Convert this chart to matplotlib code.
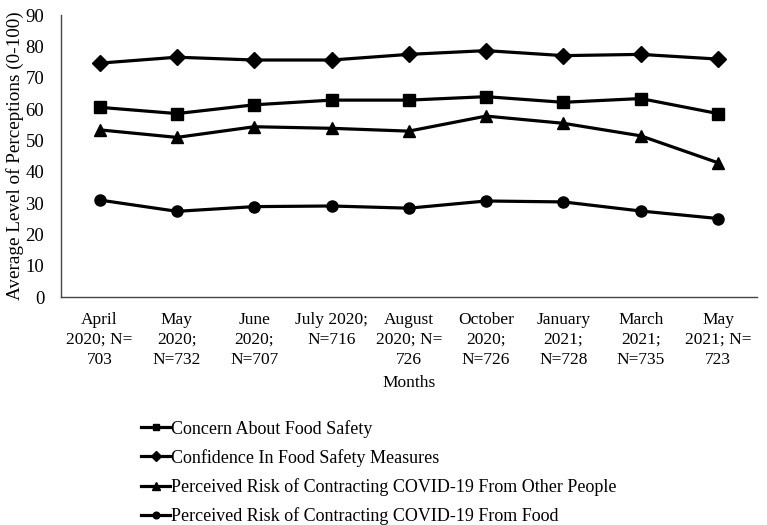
import matplotlib
matplotlib.use("Agg")
from matplotlib import pyplot as plt

plt.rcParams['font.family'] = ['Liberation Serif', 'DejaVu Serif']

# x categories (survey waves)
months = ["April\n2020; N=\n703", "May\n2020;\nN=732", "June\n2020;\nN=707",
          "July 2020;\nN=716", "August\n2020; N=\n726", "October\n2020;\nN=726",
          "January\n2021;\nN=728", "March\n2021;\nN=735", "May\n2021; N=\n723"]

concern = [60.6, 58.6, 61.4, 62.9, 62.9, 64.0, 62.2, 63.4, 58.6]
confidence = [74.7, 76.6, 75.7, 75.7, 77.5, 78.7, 77.1, 77.5, 76.0]
risk_people = [53.4, 51.0, 54.4, 53.9, 53.0, 57.8, 55.5, 51.5, 42.9]
risk_food = [31.0, 27.4, 28.9, 29.1, 28.4, 30.7, 30.4, 27.5, 25.1]

series = [
    ("Concern About Food Safety", concern, "s", 8),
    ("Confidence In Food Safety Measures", confidence, "D", 8),
    ("Perceived Risk of Contracting COVID-19 From Other People", risk_people, "^", 9),
    ("Perceived Risk of Contracting COVID-19 From Food", risk_food, "o", 8),
]

fig = plt.figure(figsize=(7.67, 5.25), dpi=100)
ax = fig.add_axes([0.0795, 0.434, 0.907, 0.537])

x = list(range(len(months)))
for label, vals, mk, ms in series:
    ax.plot(x, vals, color="black", linewidth=2.3, marker=mk, markersize=ms, label=label)

ax.set_xlim(-0.5, len(months) - 0.5)
ax.set_ylim(0, 90)
ax.set_yticks(range(0, 91, 10))
ax.set_xticks(x)
ax.set_xticklabels(months, fontsize=12.5, linespacing=1.3)
ax.tick_params(axis="y", length=0, labelsize=13.5, pad=12)
ax.tick_params(axis="x", length=0, pad=11)
for s in ["top", "right"]:
    ax.spines[s].set_visible(False)
for s in ["left", "bottom"]:
    ax.spines[s].set_color("#444444")
    ax.spines[s].set_linewidth(1.0)

ax.set_ylabel("Average Level of Perceptions (0-100)", fontsize=13.8, labelpad=1)
ax.set_xlabel("Months", fontsize=12.5, labelpad=5)

leg = fig.legend(loc="upper left", bbox_to_anchor=(0.174, 0.214), frameon=False,
                 fontsize=13.0, handlelength=1.65, handletextpad=0.05, labelspacing=0.62,
                 borderaxespad=0, markerscale=0.6)

fig.savefig("out.png", dpi=100)
